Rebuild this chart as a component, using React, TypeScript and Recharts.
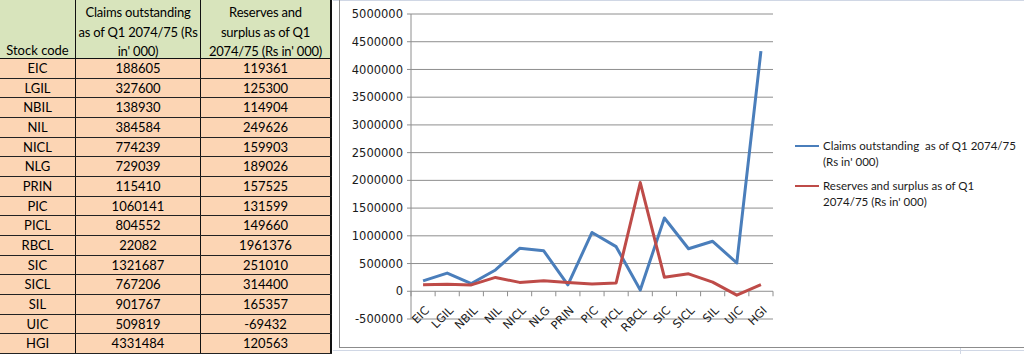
import { LineChart, Line, XAxis, YAxis, CartesianGrid, Legend } from 'recharts';

// --- data ---
const stockCodes = ['EIC', 'LGIL', 'NBIL', 'NIL', 'NICL', 'NLG', 'PRIN', 'PIC', 'PICL', 'RBCL', 'SIC', 'SICL', 'SIL', 'UIC', 'HGI'];
const claimsOutstanding = [188605, 327600, 138930, 384584, 774239, 729039, 115410, 1060141, 804552, 22082, 1321687, 767206, 901767, 509819, 4331484];
const reservesSurplus = [119361, 125300, 114904, 249626, 159903, 189026, 157525, 131599, 149660, 1961376, 251010, 314400, 165357, -69432, 120563];
const yTicks = [-500000, 0, 500000, 1000000, 1500000, 2000000, 2500000, 3000000, 3500000, 4000000, 4500000, 5000000];

const claimsName = "Claims outstanding  as of Q1 2074/75 (Rs in' 000)";
const reservesName = "Reserves and surplus as of Q1 2074/75 (Rs in' 000)";
const claimsHeader = ['Claims outstanding', 'as of Q1 2074/75 (Rs', "in' 000)"];
const reservesHeader = ['Reserves and', 'surplus as of Q1', "2074/75 (Rs in' 000)"];
const legendLines: Record<string, string[]> = {
  [claimsName]: ['Claims outstanding  as of Q1 2074/75', "(Rs in' 000)"],
  [reservesName]: ['Reserves and surplus as of Q1', "2074/75 (Rs in' 000)"],
};

const chartData = stockCodes.map((code, i) => ({
  code,
  claims: claimsOutstanding[i],
  reserves: reservesSurplus[i],
}));

// --- layout ---
const CHART_W = 684;
const CHART_H = 347;
const MARGIN = { top: 14, right: 251, bottom: 0, left: 0 };
const Y_AXIS_W = 71;
const X_AXIS_H = 28;
const PLOT_W = CHART_W - MARGIN.left - MARGIN.right - Y_AXIS_W;
const PLOT_H = CHART_H - MARGIN.top - MARGIN.bottom - X_AXIS_H;
const HALF_BAND = PLOT_W / stockCodes.length / 2;
const Y_MIN = yTicks[0];
const Y_MAX = yTicks[yTicks.length - 1];
const ZERO_OFFSET = (PLOT_H * (0 - Y_MIN)) / (Y_MAX - Y_MIN);

const GRID = '#8e8e8e';
const BLUE = '#4a7ebb';
const RED = '#be4b48';
const AXIS_FONT = '"DejaVu Sans", sans-serif';
const SHEET_FONT = 'Lato, "Open Sans", sans-serif';

const COL_W = [76, 125, 131];
const HEADER_H = 59;
const ROW_H = (354 - HEADER_H) / stockCodes.length;

// category labels sit under the zero line, like Excel's "next to axis"
const XTick = ({ x, y, payload, index }: any) => {
  const zeroY = y - ZERO_OFFSET;
  const tx = x + 4;
  const ty = zeroY + 17;
  return (
    <g>
      <line x1={x - HALF_BAND} y1={zeroY} x2={x - HALF_BAND} y2={zeroY + 5} stroke={GRID} />
      {index === stockCodes.length - 1 && (
        <line x1={x + HALF_BAND} y1={zeroY} x2={x + HALF_BAND} y2={zeroY + 5} stroke={GRID} />
      )}
      <text
        x={tx}
        y={ty}
        dy="0.35em"
        textAnchor="end"
        transform={`rotate(-45 ${tx} ${ty})`}
        fontSize={11.5}
        fontFamily={AXIS_FONT}
        fill="#1a1a1a"
      >
        {payload.value}
      </text>
    </g>
  );
};

const SheetLegend = ({ payload }: any) => (
  <div style={{ fontFamily: SHEET_FONT, fontSize: 11.5, color: '#1a1a1a' }}>
    {(payload || []).map((entry: any) => (
      <div key={entry.value} style={{ display: 'flex', alignItems: 'flex-start', marginBottom: 8 }}>
        <div style={{ width: 24, height: 2, background: entry.color, marginTop: 7, marginRight: 4 }} />
        <div style={{ lineHeight: '16px' }}>
          {(legendLines[entry.value] || [entry.value]).map((line) => (
            <div key={line} style={{ whiteSpace: 'pre' }}>{line}</div>
          ))}
        </div>
      </div>
    ))}
  </div>
);

const cellBase: React.CSSProperties = {
  boxSizing: 'border-box',
  borderRight: '1px solid #111',
  textAlign: 'center',
  overflow: 'hidden',
};

export default function App() {
  return (
    <div
      style={{
        position: 'fixed',
        left: 0,
        top: 0,
        width: 1024,
        height: 354,
        background: '#fff',
        overflow: 'hidden',
      }}
    >
      {/* faint sheet gridlines around the chart */}
      <div style={{ position: 'absolute', left: 333, top: 0, width: 700, height: 1, background: '#d0d7e5' }} />
      <div style={{ position: 'absolute', left: 333, top: 350, width: 700, height: 1, background: '#d0d7e5' }} />
      <div style={{ position: 'absolute', left: 960, top: 348, width: 1, height: 10, background: '#d0d7e5' }} />

      {/* data table */}
      <div style={{ position: 'absolute', left: 0, top: 0, fontFamily: SHEET_FONT, fontSize: 13, color: '#000' }}>
        <div style={{ display: 'flex', height: HEADER_H, background: '#d8e4bc', borderBottom: '1px solid #111', boxSizing: 'border-box' }}>
          <div style={{ ...cellBase, width: COL_W[0], display: 'flex', alignItems: 'flex-end', justifyContent: 'center', paddingBottom: 0 }}>
            Stock code
          </div>
          <div style={{ ...cellBase, width: COL_W[1], lineHeight: '19.5px', paddingTop: 3, letterSpacing: -0.2 }}>
            {claimsHeader.map((l) => <div key={l}>{l}</div>)}
          </div>
          <div style={{ ...cellBase, width: COL_W[2], lineHeight: '19.5px', paddingTop: 3, letterSpacing: -0.2, borderRight: '2px solid #111' }}>
            {reservesHeader.map((l) => <div key={l}>{l}</div>)}
          </div>
        </div>
        {stockCodes.map((code, i) => (
          <div
            key={code}
            style={{ display: 'flex', height: ROW_H, background: '#fcd5b4', borderBottom: '1px solid #222', boxSizing: 'border-box', lineHeight: `${ROW_H - 1}px` }}
          >
            <div style={{ ...cellBase, width: COL_W[0] }}>{code}</div>
            <div style={{ ...cellBase, width: COL_W[1] }}>{claimsOutstanding[i]}</div>
            <div style={{ ...cellBase, width: COL_W[2], borderRight: '2px solid #111' }}>{reservesSurplus[i]}</div>
          </div>
        ))}
      </div>

      {/* chart frame */}
      <div style={{ position: 'absolute', left: 339, top: -2, width: 720, height: 350, border: '1px solid #8c8c8c', boxSizing: 'border-box' }} />

      <div style={{ position: 'absolute', left: 340, top: 0 }}>
        <LineChart width={CHART_W} height={CHART_H} data={chartData} margin={MARGIN}>
          <CartesianGrid vertical={false} stroke={GRID} />
          <XAxis
            dataKey="code"
            height={X_AXIS_H}
            axisLine={false}
            tickLine={false}
            tickSize={0}
            tickMargin={0}
            interval={0}
            padding={{ left: HALF_BAND, right: HALF_BAND }}
            tick={<XTick />}
          />
          <YAxis
            width={Y_AXIS_W}
            domain={[Y_MIN, Y_MAX]}
            ticks={yTicks}
            interval={0}
            axisLine={{ stroke: GRID }}
            tickLine={{ stroke: GRID }}
            tickSize={4}
            tickMargin={4}
            tick={{ fontSize: 11.5, fontFamily: AXIS_FONT, fill: '#1a1a1a' }}
          />
          <Legend
            layout="horizontal"
            align="center"
            verticalAlign="middle"
            content={<SheetLegend />}
            wrapperStyle={{ left: 455, top: 138, width: 229 }}
          />
          <Line
            type="linear"
            dataKey="claims"
            name={claimsName}
            stroke={BLUE}
            strokeWidth={3}
            dot={false}
            strokeLinejoin="round"
            isAnimationActive={false}
          />
          <Line
            type="linear"
            dataKey="reserves"
            name={reservesName}
            stroke={RED}
            strokeWidth={3}
            dot={false}
            strokeLinejoin="round"
            isAnimationActive={false}
          />
        </LineChart>
      </div>
    </div>
  );
}
